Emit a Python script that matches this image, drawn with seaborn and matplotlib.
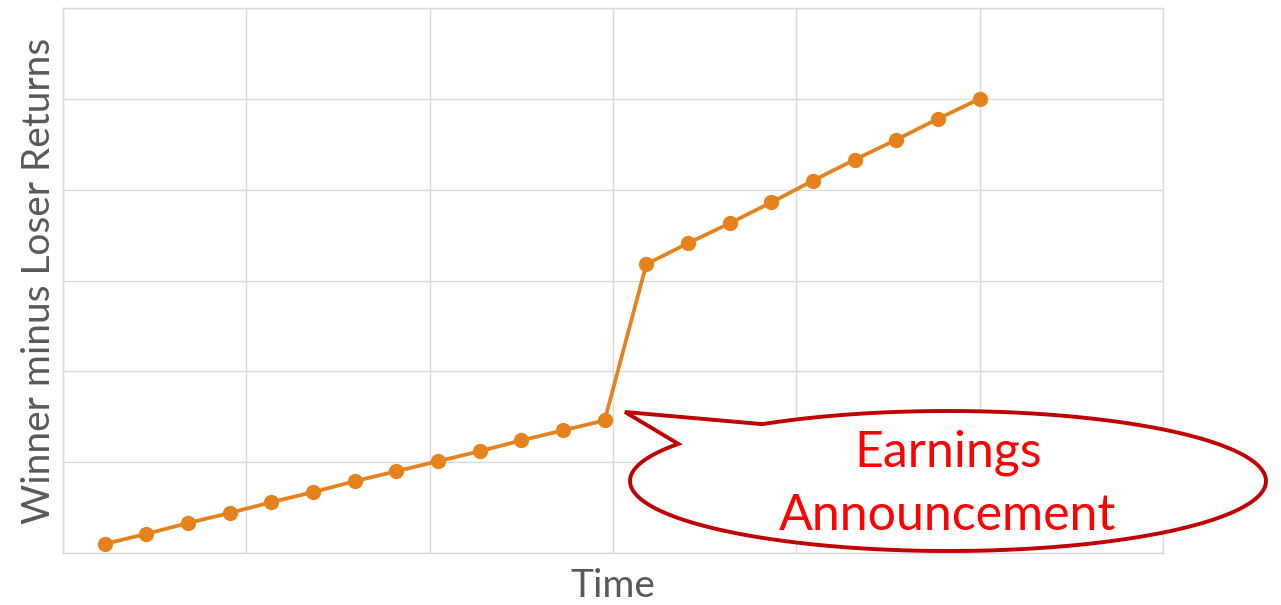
import numpy as np
import pandas as pd
import matplotlib
matplotlib.use("Agg")
import matplotlib.pyplot as plt
from matplotlib.patches import Polygon
import seaborn as sns

# Data
periods = list(range(1, 23))
returns = [0.10, 0.21, 0.33, 0.44, 0.56, 0.67, 0.79, 0.90, 1.01, 1.12, 1.24, 1.35, 1.46,
           3.18, 3.41, 3.63, 3.86, 4.10, 4.33, 4.55, 4.78, 5.00]
x_label = "Time"
y_label = "Winner minus Loser Returns"
callout_lines = ["Earnings", "Announcement"]

df = pd.DataFrame({"Time": periods, "Return": returns})

sns.set_style("whitegrid")
plt.rcParams['font.family'] = ['Lato', 'DejaVu Sans']

W, H = 1281, 605
fig = plt.figure(figsize=(W / 100, H / 100), dpi=100)
ax = fig.add_axes([63 / W, 1 - 553 / H, 1100 / W, 545 / H])

sns.lineplot(data=df, x="Time", y="Return", ax=ax, color="#E6821E", linewidth=2.7,
             marker="o", markersize=11, markeredgewidth=0, zorder=3)

ax.set_xlim(0, 26.4)
ax.set_ylim(0, 6)
ax.set_xticks(np.linspace(0, 26.4, 7))
ax.set_yticks(np.arange(0, 7, 1))
ax.set_xticklabels([])
ax.set_yticklabels([])
ax.tick_params(length=0)
ax.grid(True, color="#D9D9D9", linewidth=1.0)
for s in ax.spines.values():
    s.set_visible(True)
    s.set_color("#D9D9D9")
    s.set_linewidth(1.0)

ax.set_xlabel(x_label, fontsize=28, color="#595959")
ax.set_ylabel(y_label, fontsize=28, color="#595959")
ax.yaxis.set_label_coords(-0.005, 0.5)
ax.xaxis.set_label_coords(0.5, -0.028)

# Callout (speech bubble) in pixel space, converted to figure fraction
cx, cy, a, b = 948.0, 481.0, 318.0, 70.0
t_start = np.deg2rad(234.3)
t_end = np.deg2rad(212.0 + 360.0)
t = np.linspace(t_start, t_end, 300)
px = cx + a * np.cos(t)
py = cy + b * np.sin(t)
tip = (625.0, 412.0)
pts = list(zip(px, py)) + [tip]
pts_fig = [(x / W, 1 - y / H) for x, y in pts]
bubble = Polygon(pts_fig, closed=True, transform=fig.transFigure, facecolor="white",
                 edgecolor="#C00000", linewidth=2.8, joinstyle="miter", zorder=5)
fig.patches.append(bubble)

fig.text(948 / W, 1 - 453 / H, callout_lines[0], ha="center", va="center",
         fontsize=36, color="#FF0000", zorder=6)
fig.text(948 / W, 1 - 516 / H, callout_lines[1], ha="center", va="center",
         fontsize=36, color="#FF0000", zorder=6)

fig.savefig("out.png", dpi=100)
